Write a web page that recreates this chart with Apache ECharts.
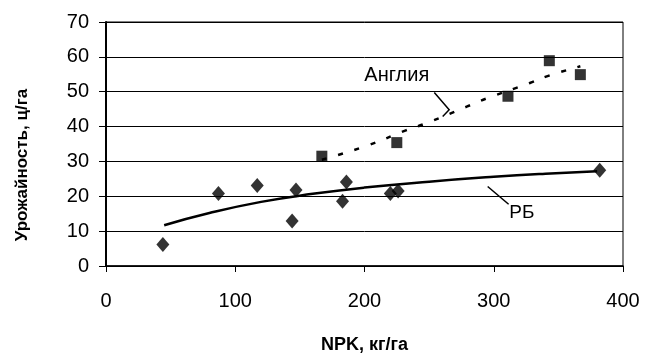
<!DOCTYPE html>
<html>
<head>
<meta charset="utf-8">
<script src="https://cdn.jsdelivr.net/npm/echarts@6/dist/echarts.min.js"></script>
<style>
  html, body { margin: 0; padding: 0; background: #fff; }
  #chart { width: 648px; height: 356px; }
</style>
</head>
<body>
<div id="chart"></div>
<script>
// observed points, Belarus (РБ)
const rbPoints = [
  [44, 6.2], [87, 20.8], [117, 23.1], [144, 12.9], [147, 21.8],
  [183, 18.6], [186, 24.1], [220, 20.8], [226, 21.5], [382, 27.5]
];
// observed points, England (Англия)
const ukPoints = [
  [167, 31.5], [225, 35.4], [311, 48.7], [343, 58.9], [367, 54.9]
];
// trend lines
const rbTrend = [
  [45, 11.7], [80, 15.2], [120, 18.4], [160, 20.7], [200, 22.5],
  [250, 24.2], [300, 25.6], [340, 26.5], [380, 27.2]
];
const ukTrend = [
  [167, 30.5], [201, 34.4], [232, 38.9], [248, 41.0], [279, 45.7],
  [294, 48.0], [328, 52.5], [341, 54.4], [367, 57.3]
];
const xTicks = [0, 100, 200, 300, 400];
const yTicks = [0, 10, 20, 30, 40, 50, 60, 70];

const font = 'Liberation Sans, Arial, sans-serif';
const chart = echarts.init(document.getElementById('chart'));

chart.setOption({
  animation: false,
  grid: {
    left: 106, right: 25, top: 22, bottom: 90,
    outerBoundsMode: 'none',
    show: true, borderColor: '#000', borderWidth: 1
  },
  xAxis: {
    type: 'value',
    min: xTicks[0], max: xTicks[xTicks.length - 1], interval: 100,
    name: 'NPK, кг/га',
    nameLocation: 'middle',
    nameGap: 70,
    nameTextStyle: { color: '#000', fontFamily: font, fontSize: 18, fontWeight: 'bold' },
    axisLine: { lineStyle: { color: '#000', width: 1.5 } },
    axisTick: { show: true, inside: false, length: 6, lineStyle: { color: '#000' } },
    axisLabel: { color: '#000', fontFamily: font, fontSize: 20, margin: 25 },
    splitLine: { show: false }
  },
  yAxis: {
    type: 'value',
    min: yTicks[0], max: yTicks[yTicks.length - 1], interval: 10,
    axisLine: { show: true, lineStyle: { color: '#000', width: 2 } },
    axisTick: { show: true, length: 7, lineStyle: { color: '#000' } },
    axisLabel: { color: '#000', fontFamily: font, fontSize: 20, margin: 17 },
    splitLine: { show: true, lineStyle: { color: '#000', width: 1 } }
  },
  series: [
    {
      type: 'line',
      data: rbTrend,
      smooth: true,
      showSymbol: false,
      lineStyle: { color: '#000', width: 2.5 },
      z: 3
    },
    {
      type: 'line',
      data: ukTrend,
      smooth: true,
      showSymbol: false,
      lineStyle: { color: '#000', width: 2.5, type: [5, 12] },
      z: 3
    },
    {
      type: 'scatter',
      data: rbPoints,
      symbol: 'diamond',
      symbolSize: [13, 15],
      itemStyle: { color: '#000' },
      z: 4
    },
    {
      type: 'scatter',
      data: ukPoints,
      symbol: 'rect',
      symbolSize: 11,
      itemStyle: { color: '#000' },
      z: 4
    }
  ]
});

// annotations, placed in data space
const px = (p) => chart.convertToPixel({ gridIndex: 0 }, p);
const line = (pts) => ({
  type: 'polyline',
  shape: { points: pts.map(px) },
  style: { stroke: '#000', lineWidth: 1.5, fill: null },
  z: 10
});
const label = (text, p, size) => {
  const [x, y] = px(p);
  return {
    type: 'text', x, y, z: 10,
    style: { text, fill: '#000', font: size + 'px ' + font, align: 'center', verticalAlign: 'middle' }
  };
};

chart.setOption({
  graphic: [
    // y axis title sits a bit below the middle of the plot in the source
    {
      type: 'text', x: 22, y: 165, rotation: Math.PI / 2, z: 10,
      style: {
        text: 'Урожайность, ц/га', fill: '#000',
        font: 'bold 17px ' + font, align: 'center', verticalAlign: 'middle'
      }
    },
    label('Англия', [225, 54.6], 20),
    line([[254, 49.8], [265.5, 44.8], [260.5, 42.9]]),
    label('РБ', [321.7, 15.3], 19),
    line([[295.3, 22.8], [311.5, 17.7]])
  ]
});
</script>
</body>
</html>
